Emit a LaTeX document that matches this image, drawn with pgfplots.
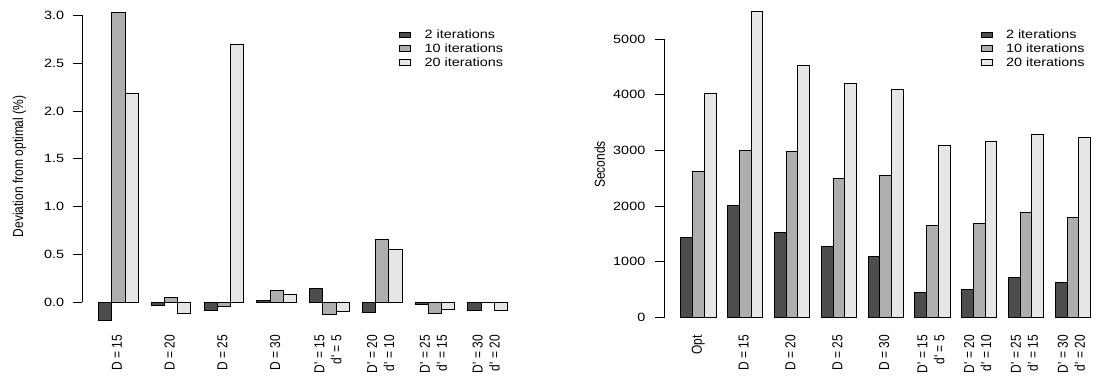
\documentclass[border=0pt]{standalone}
\usepackage{pgfplots}
\pgfplotsset{compat=1.18}
\usepackage{fontspec}
\setmainfont{Liberation Sans}[Ligatures=TeXOff]
\usepackage{graphicx}
\definecolor{c1}{HTML}{4D4D4D}
\definecolor{c2}{HTML}{AEAEAE}
\definecolor{c3}{HTML}{E6E6E6}
\newcommand{\xl}[1]{\scalebox{1}[1.2]{\begin{tabular}{@{}r@{}}#1\end{tabular}}}
\newcommand{\hs}[1]{\scalebox{1.2}[1]{#1}}
\pgfplotsset{
  mybar/.style={ybar, bar width=1, bar shift=0pt, draw=black, line width=0.75pt, fill=#1,
    legend image code/.code={\draw[##1,/tikz/.cd] (0pt,-2.2pt) rectangle (8.25pt,2.2pt);}},
  common/.style={scale only axis, anchor=south west, axis lines*=left,
    axis line style={draw=none}, tick align=outside, major tick length=7pt,
    xtick style={draw=none}, ytick style={black, line width=0.75pt},
    clip=false,
    xticklabel style={rotate=90, anchor=east, inner sep=0pt},
    yticklabel style={anchor=east, inner sep=0pt},
    yticklabel={\hs{\pgfmathprintnumber{\tick}}},
    /pgf/number format/assume math mode=true,
    legend cell align=left,
  },
}
\begin{document}
\fontsize{9pt}{10.6pt}\selectfont
\begin{tikzpicture}
\useasboundingbox (0,0) rectangle (822.75pt,283.5pt);
% ---------------- left panel ----------------
\begin{axis}[common,
  at={(61.725pt,34.05pt)}, width=331.2pt, height=249.4pt,
  xmin=-0.24, xmax=33.24, ymin=-0.317, ymax=3.160,
  xtick={2.5,6.5,10.5,14.5,18.5,22.5,26.5,30.5},
  xticklabels={{\xl{D = 15}},{\xl{D = 20}},{\xl{D = 25}},{\xl{D = 30}},
    {\xl{D' = 15\\d' = 5}},{\xl{D' = 20\\d' = 10}},{\xl{D' = 25\\d' = 15}},{\xl{D' = 30\\d' = 20}}},
  ytick={0,0.5,1,1.5,2,2.5,3},
  /pgf/number format/.cd, fixed, fixed zerofill, precision=1, /pgfplots/.cd,
  xticklabel shift=-5.2pt, yticklabel shift=6.5pt,
  every axis y label/.style={at={(axis description cs:-0.1427,0.5)}, rotate=90, anchor=center},
  ylabel={\scalebox{1}[1.2]{Deviation from optimal (\%)}},
  legend style={draw=none, fill=none, inner sep=0pt, outer sep=0pt,
    at={(axis description cs:0.7178,0.9131)}, anchor=north west, row sep=1.4pt,
    nodes={inner sep=0pt, text height=7pt, text depth=2pt},
    /tikz/every odd column/.append style={column sep=10pt}},
]
\addplot[mybar=c1] coordinates {(1.5,-0.188) (5.5,-0.031) (9.5,-0.084) (13.5,0.020) (17.5,0.148) (21.5,-0.105) (25.5,-0.021) (29.5,-0.088)};
\addlegendentry{\hs{2 iterations}}
\addplot[mybar=c2] coordinates {(2.5,3.03) (6.5,0.055) (10.5,-0.040) (14.5,0.125) (18.5,-0.127) (22.5,0.658) (26.5,-0.115) (30.5,-0.004)};
\addlegendentry{\hs{10 iterations}}
\addplot[mybar=c3] coordinates {(3.5,2.18) (7.5,-0.117) (11.5,2.70) (15.5,0.083) (19.5,-0.101) (23.5,0.553) (27.5,-0.075) (31.5,-0.090)};
\addlegendentry{\hs{20 iterations}}
\draw[line width=0.75pt] (axis cs:-0.24,0) -- (axis cs:-0.24,3);
\end{axis}
% ---------------- right panel ----------------
\begin{axis}[common,
  at={(498.4pt,36.4pt)}, width=331.7pt, height=247.3pt,
  xmin=-0.4, xmax=37.4, ymin=-219.6, ymax=5710.6,
  xtick={2.5,6.5,10.5,14.5,18.5,22.5,26.5,30.5,34.5},
  xticklabels={{\xl{Opt}},{\xl{D = 15}},{\xl{D = 20}},{\xl{D = 25}},{\xl{D = 30}},
    {\xl{D' = 15\\d' = 5}},{\xl{D' = 20\\d' = 10}},{\xl{D' = 25\\d' = 15}},{\xl{D' = 30\\d' = 20}}},
  ytick={0,1000,2000,3000,4000,5000},
  /pgf/number format/.cd, fixed, 1000 sep={}, /pgfplots/.cd,
  xticklabel shift=-2.9pt, yticklabel shift=7.25pt,
  every axis y label/.style={at={(axis description cs:-0.1465,0.5)}, rotate=90, anchor=center},
  ylabel={\scalebox{1}[1.2]{Seconds}},
  legend style={draw=none, fill=none, inner sep=0pt, outer sep=0pt,
    at={(axis description cs:0.7149,0.9114)}, anchor=north west, row sep=1.4pt,
    nodes={inner sep=0pt, text height=7pt, text depth=2pt},
    /tikz/every odd column/.append style={column sep=10pt}},
]
\addplot[mybar=c1] coordinates {(1.5,1439) (5.5,2014) (9.5,1529) (13.5,1277) (17.5,1097) (21.5,450) (25.5,496) (29.5,712) (33.5,622)};
\addlegendentry{\hs{2 iterations}}
\addplot[mybar=c2] coordinates {(2.5,2626) (6.5,3004) (10.5,2973) (14.5,2487) (18.5,2554) (22.5,1655) (26.5,1691) (30.5,1876) (34.5,1791)};
\addlegendentry{\hs{10 iterations}}
\addplot[mybar=c3] coordinates {(3.5,4022) (7.5,5491) (11.5,4525) (15.5,4201) (19.5,4088) (23.5,3094) (27.5,3158) (31.5,3284) (35.5,3230)};
\addlegendentry{\hs{20 iterations}}
\draw[line width=0.75pt] (axis cs:-0.4,0) -- (axis cs:-0.4,5000);
\end{axis}
\end{tikzpicture}
\end{document}
